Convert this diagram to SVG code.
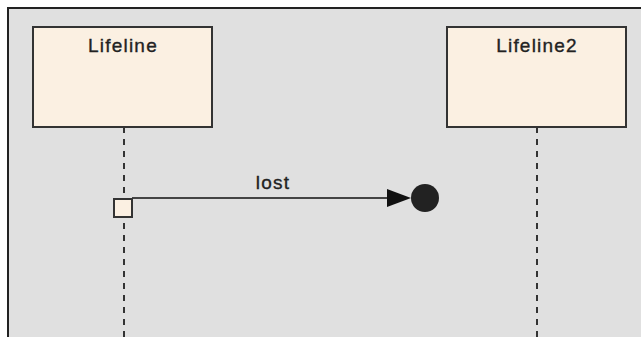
<svg xmlns="http://www.w3.org/2000/svg" width="641" height="337" viewBox="0 0 641 337">
<style>
.box{fill:#fbf0e2;stroke:#333;stroke-width:2}
.lbl{font-family:"Liberation Sans",Arial,sans-serif;font-size:19px;fill:#222;stroke:#222;stroke-width:0.35;letter-spacing:1.2px;text-anchor:middle}
.life{stroke:#333;stroke-width:2;stroke-dasharray:6 6;fill:none}
</style>
<rect x="0" y="0" width="641" height="337" fill="#ffffff"/>
<rect x="8" y="8" width="633" height="329" fill="#e0e0e0"/>
<path d="M8 337 V8 H641" fill="none" stroke="#222" stroke-width="2"/>
<g id="connectors">
<line class="life" x1="124" y1="127" x2="124" y2="337"/>
<line class="life" x1="537" y1="127" x2="537" y2="337"/>
<line x1="132" y1="198" x2="390" y2="198" stroke="#111" stroke-width="1.5"/>
<polygon points="387,189 411,198 387,207" fill="#111"/>
<circle cx="425" cy="198" r="14" fill="#222"/>
<text class="lbl" x="273" y="189">lost</text>
</g>
<g id="lifeline1">
<rect class="box" x="33" y="27" width="179" height="100"/>
<text class="lbl" x="123" y="52">Lifeline</text>
</g>
<g id="lifeline2">
<rect class="box" x="447" y="27" width="179" height="100"/>
<text class="lbl" x="537" y="52">Lifeline2</text>
</g>
<g id="activation">
<rect class="box" x="114" y="199" width="18" height="18"/>
</g>
</svg>
